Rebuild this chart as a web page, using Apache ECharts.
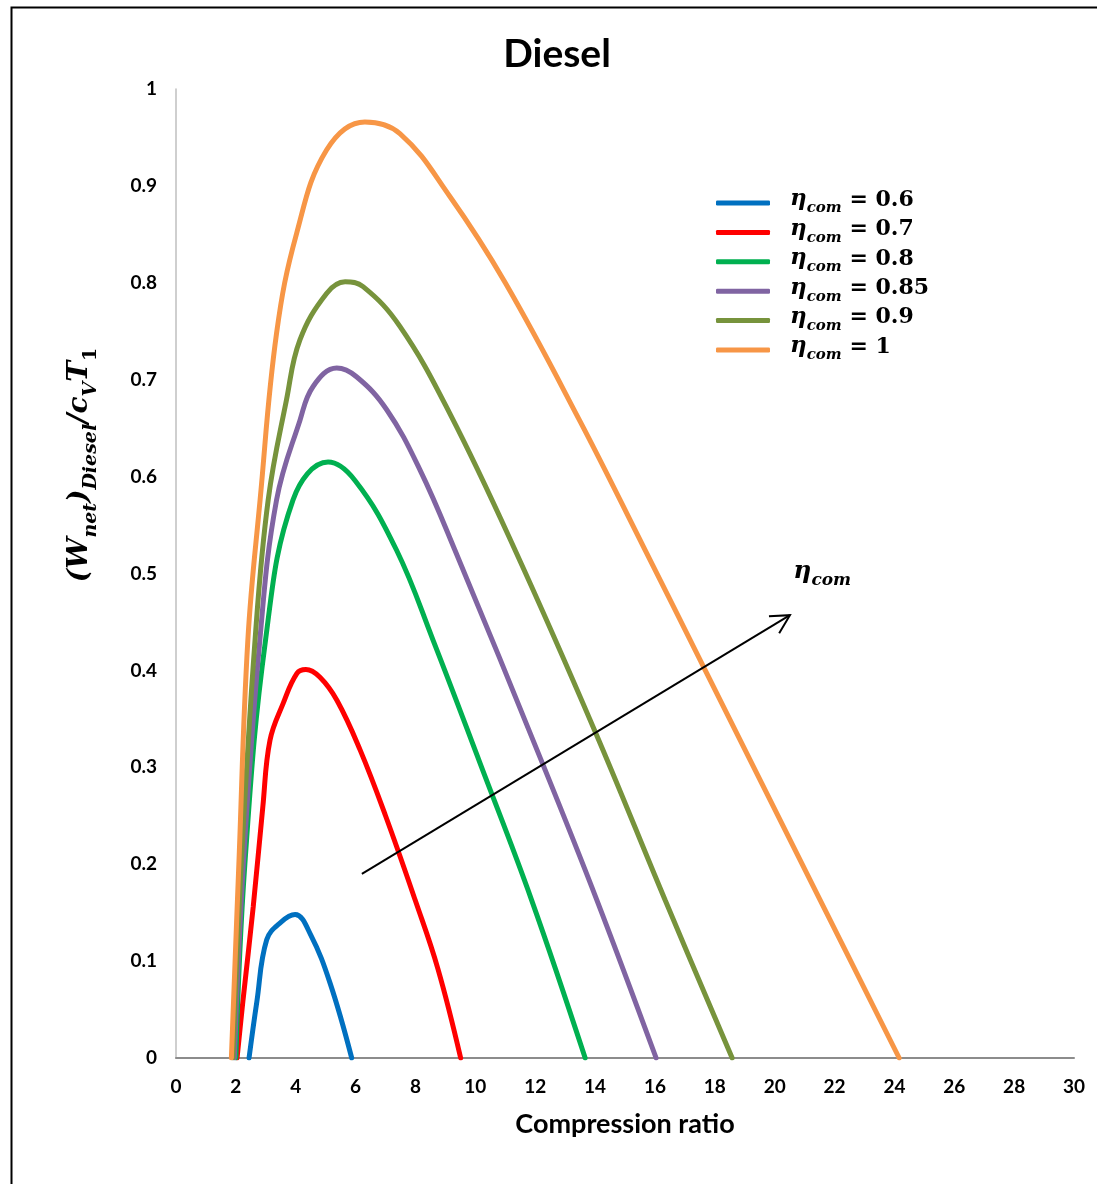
<!DOCTYPE html>
<html>
<head>
<meta charset="utf-8">
<script src="https://cdn.jsdelivr.net/npm/echarts@6/dist/echarts.min.js"></script>
<style>
html,body{margin:0;padding:0;background:#fff;}
#chart{width:1097px;height:1184px;}
</style>
</head>
<body>
<div id="chart"></div>
<script>
// ---- data (compression ratio, dimensionless net work) ----
const seriesNames = ['ηcom = 0.6', 'ηcom = 0.7', 'ηcom = 0.8', 'ηcom = 0.85', 'ηcom = 0.9', 'ηcom = 1'];
const seriesColors = ['#0070C0', '#FF0000', '#00B050', '#8064A2', '#77933C', '#F79646'];

const crEta060 = [2.44, 2.7, 3.03, 3.5, 3.98, 4.5, 5.15, 5.87];
const wEta060  = [0, 0.058, 0.122, 0.140, 0.148, 0.127, 0.077, 0];

const crEta070 = [2.04, 2.24, 2.58, 2.9, 3.14, 3.58, 4.04, 4.34, 4.81, 5.38, 6.15, 7.0, 7.99, 8.75, 9.51];
const wEta070  = [0, 0.06, 0.156, 0.259, 0.328, 0.366, 0.397, 0.401, 0.393, 0.369, 0.318, 0.25, 0.163, 0.092, 0];

const crEta080 = [2.0, 2.3, 2.99, 3.91, 5.08, 5.98, 7.37, 8.59, 10.16, 11.88, 13.67];
const wEta080  = [0, 0.2, 0.431, 0.576, 0.615, 0.596, 0.524, 0.431, 0.304, 0.163, 0];

const crEta085 = [1.95, 2.25, 2.8, 3.36, 4.14, 4.58, 5.37, 6.03, 7.04, 8.15, 9.32, 12.27, 14.06, 16.04];
const wEta085  = [0, 0.2, 0.431, 0.576, 0.658, 0.693, 0.712, 0.703, 0.669, 0.607, 0.524, 0.302, 0.163, 0];

const crEta090 = [1.9, 2.18, 2.64, 3.08, 3.69, 4.14, 5.03, 5.65, 6.25, 7.48, 9.15, 11.33, 14.0, 16.34, 18.58];
const wEta090  = [0, 0.2, 0.431, 0.576, 0.679, 0.741, 0.789, 0.801, 0.796, 0.755, 0.665, 0.524, 0.337, 0.163, 0];

const crEta100 = [1.85, 2.1, 2.4, 2.81, 3.36, 4.03, 5.03, 6.31, 7.48, 9.15, 11.0, 13.5, 15.61, 17.62, 21.52, 24.16];
const wEta100  = [0, 0.2, 0.431, 0.576, 0.748, 0.851, 0.937, 0.966, 0.954, 0.889, 0.80, 0.657, 0.528, 0.404, 0.163, 0];

const xTicks = [0, 30, 2];     // min, max, interval
const yTicks = [0, 1, 0.1];

// arrow annotation (data coordinates)
const arrowStart = [6.21, 0.190];
const arrowEnd   = [20.51, 0.457];
const arrowLabelAt = [20.62, 0.498];

const allX = [crEta060, crEta070, crEta080, crEta085, crEta090, crEta100];
const allY = [wEta060, wEta070, wEta080, wEta085, wEta090, wEta100];

const chart = echarts.init(document.getElementById('chart'));
const FONT = 'Lato, "Open Sans", sans-serif';
const SERIF = '"DejaVu Serif", "Liberation Serif", serif';

const series = seriesNames.map((name, i) => ({
  name: name,
  type: 'line',
  data: allX[i].map((x, k) => [x, allY[i][k]]),
  smooth: 0.4,
  showSymbol: false,
  symbol: 'none',
  lineStyle: { width: 5, color: seriesColors[i], cap: 'round' },
  itemStyle: { color: seriesColors[i] },
  animation: false
}));

const option = {
  animation: false,
  backgroundColor: '#fff',
  title: {
    text: 'Diesel',
    left: 552, top: 30,
    textAlign: 'center',
    textStyle: { fontFamily: FONT, fontWeight: 'bold', fontSize: 39, color: '#000' }
  },
  grid: { left: 176, right: 23, top: 89, bottom: 126, containLabel: false },
  legend: {
    orient: 'vertical',
    left: 711, top: 183,
    itemWidth: 54, itemHeight: 5,
    itemGap: 1.4,
    icon: 'roundRect',
    data: seriesNames,
    selectedMode: false,
    formatter: function (name) {
      const v = name.split('= ')[1];
      return '{e|η}{s|com}{v| = ' + v + '}';
    },
    textStyle: {
      padding: [0, 0, 0, 15],
      rich: {
        e: { fontFamily: SERIF, fontStyle: 'italic', fontWeight: 'bold', fontSize: 23, color: '#000', verticalAlign: 'bottom', padding: [0, 0, 5, 0], lineHeight: 26 },
        s: { fontFamily: SERIF, fontStyle: 'italic', fontWeight: 'bold', fontSize: 15, color: '#000', verticalAlign: 'bottom', lineHeight: 26 },
        v: { fontFamily: SERIF, fontWeight: 'bold', fontSize: 22, color: '#000', verticalAlign: 'bottom', padding: [0, 0, 5, 0], lineHeight: 26 }
      }
    }
  },
  xAxis: {
    type: 'value',
    min: xTicks[0], max: xTicks[1], interval: xTicks[2],
    name: 'Compression ratio',
    nameLocation: 'middle',
    nameGap: 53,
    nameTextStyle: { fontFamily: FONT, fontWeight: 'bold', fontSize: 27, color: '#000' },
    axisLine: { show: true, lineStyle: { color: '#8c8c8c', width: 2 } },
    axisTick: { show: false },
    splitLine: { show: false },
    axisLabel: { margin: 19, fontFamily: FONT, fontWeight: 'bold', fontSize: 19, color: '#000' }
  },
  yAxis: {
    type: 'value',
    min: yTicks[0], max: yTicks[1], interval: yTicks[2],
    axisLine: { show: true, lineStyle: { color: '#bfbfbf', width: 1.5 } },
    axisTick: { show: false },
    splitLine: { show: false },
    axisLabel: { margin: 19, fontFamily: FONT, fontWeight: 'bold', fontSize: 19, color: '#000' }
  },
  series: series
};

chart.setOption(option);

// annotations placed from data coordinates through the axes
const p0 = chart.convertToPixel({ gridIndex: 0 }, arrowStart);
const p1 = chart.convertToPixel({ gridIndex: 0 }, arrowEnd);
const pl = chart.convertToPixel({ gridIndex: 0 }, arrowLabelAt);
const ang = Math.atan2(p0[1] - p1[1], p0[0] - p1[0]);
const armLen = 21, spread = 28 * Math.PI / 180;
const a1 = [p1[0] + armLen * Math.cos(ang + spread), p1[1] + armLen * Math.sin(ang + spread)];
const a2 = [p1[0] + armLen * Math.cos(ang - spread), p1[1] + armLen * Math.sin(ang - spread)];

chart.setOption({
  graphic: [
    { type: 'rect', left: 9, top: 5, shape: { width: 1200, height: 1300 }, style: { fill: 'none', stroke: '#000', lineWidth: 2 }, silent: true, z: 100 },
    { type: 'line', shape: { x1: p0[0], y1: p0[1], x2: p1[0], y2: p1[1] }, style: { stroke: '#000', lineWidth: 2 }, z: 100 },
    { type: 'polyline', shape: { points: [a1, p1, a2] }, style: { stroke: '#000', lineWidth: 2, fill: 'none' }, z: 100 },
    {
      type: 'text', x: pl[0], y: pl[1], z: 100,
      style: {
        text: '{e|η}{s|com}',
        align: 'left', verticalAlign: 'middle',
        rich: {
          e: { fontFamily: SERIF, fontStyle: 'italic', fontWeight: 'bold', fontSize: 25, fill: '#000', verticalAlign: 'bottom', padding: [0, 0, 5, 0], lineHeight: 28 },
          s: { fontFamily: SERIF, fontStyle: 'italic', fontWeight: 'bold', fontSize: 17, fill: '#000', verticalAlign: 'bottom', lineHeight: 28 }
        }
      }
    },
    {
      type: 'text', x: 84, y: 465, rotation: Math.PI / 2, z: 100,
      style: {
        text: '{m|(W}{s|net}{m|)}{s|Diesel}{m|/c}{s|V}{m|T}{t|1}',
        align: 'center', verticalAlign: 'middle',
        rich: {
          m: { fontFamily: SERIF, fontStyle: 'italic', fontWeight: 'bold', fontSize: 28, fill: '#000', verticalAlign: 'bottom', padding: [0, 0, 7, 0], lineHeight: 34 },
          s: { fontFamily: SERIF, fontStyle: 'italic', fontWeight: 'bold', fontSize: 19, fill: '#000', verticalAlign: 'bottom', lineHeight: 34 },
          t: { fontFamily: SERIF, fontWeight: 'bold', fontSize: 19, fill: '#000', verticalAlign: 'bottom', lineHeight: 34 }
        }
      }
    }
  ]
});
</script>
</body>
</html>
